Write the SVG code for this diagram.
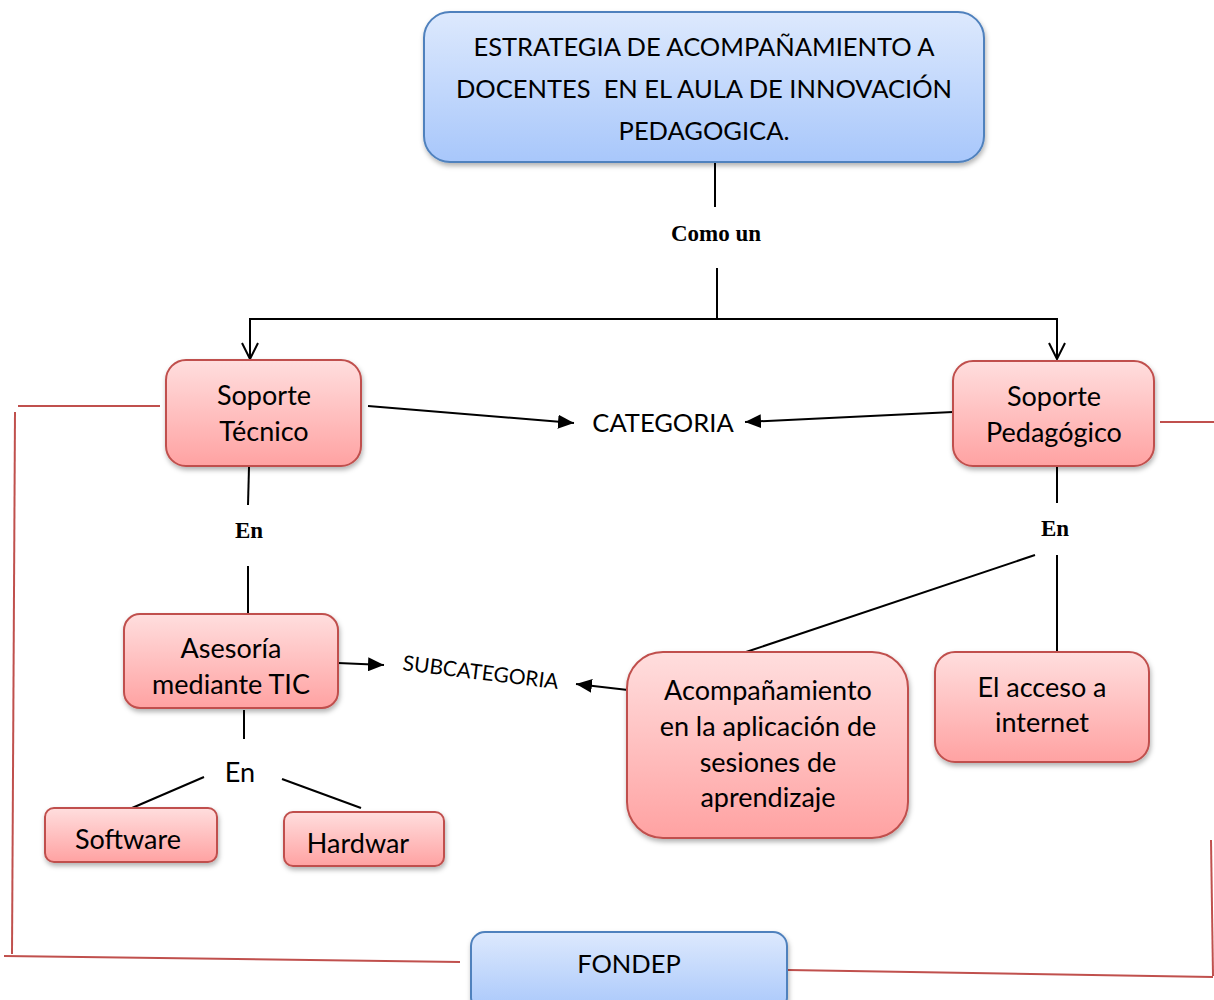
<svg xmlns="http://www.w3.org/2000/svg" width="1214" height="1000" viewBox="0 0 1214 1000">
<defs>
<linearGradient id="gBlue" x1="0" y1="0" x2="0" y2="1"><stop offset="0" stop-color="#dde9fd"/><stop offset="1" stop-color="#a8c7fb"/></linearGradient>
<linearGradient id="gRed" x1="0" y1="0" x2="0" y2="1"><stop offset="0" stop-color="#ffdede"/><stop offset="1" stop-color="#ffa2a2"/></linearGradient>
<filter id="sh" x="-10%" y="-10%" width="130%" height="140%"><feDropShadow dx="1" dy="3" stdDeviation="2.5" flood-color="#000" flood-opacity="0.3"/></filter>
<marker id="aFill" viewBox="0 0 10 10" refX="10" refY="5" markerWidth="16" markerHeight="14" markerUnits="userSpaceOnUse" orient="auto" preserveAspectRatio="none"><path d="M0,0 L10,5 L0,10 z" fill="#000"/></marker>
<marker id="aOpen" viewBox="0 0 20 20" refX="18" refY="10" markerWidth="20" markerHeight="20" markerUnits="userSpaceOnUse" orient="auto"><path d="M2,2 L18,10 L2,18" fill="none" stroke="#000" stroke-width="2"/></marker>
</defs>
<style>
.blue{fill:url(#gBlue);stroke:#4f81bd;stroke-width:2;filter:url(#sh)}
.red{fill:url(#gRed);stroke:#c0504d;stroke-width:2;filter:url(#sh)}
.t{font-family:Lato,"Liberation Sans",sans-serif;font-size:25.5px;fill:#000;text-anchor:middle}
.m{font-size:27px}
.b{font-family:"Liberation Serif","Times New Roman",serif;font-weight:bold;font-size:23px;fill:#000;text-anchor:middle}
.ln{stroke:#000;stroke-width:2;fill:none}
.rl{stroke:#c0504d;stroke-width:2;fill:none}
</style>
<g id="connectors">
<line class="ln" x1="715" y1="162" x2="715" y2="207"/>
<line class="ln" x1="717" y1="268" x2="717" y2="319"/>
<polyline class="ln" points="250,319 1057,319 1057,359" marker-end="url(#aOpen)"/>
<line class="ln" x1="250" y1="318" x2="250" y2="359" marker-end="url(#aOpen)"/>
<line class="ln" x1="368" y1="406" x2="574" y2="423" marker-end="url(#aFill)"/>
<line class="ln" x1="953" y1="412" x2="745" y2="422" marker-end="url(#aFill)"/>
<line class="ln" x1="249" y1="467" x2="248" y2="505"/>
<line class="ln" x1="248" y1="566" x2="248" y2="616"/>
<line class="ln" x1="1057" y1="467" x2="1057" y2="503"/>
<line class="ln" x1="1057" y1="555" x2="1057" y2="652"/>
<line class="ln" x1="1035" y1="555" x2="746" y2="652"/>
<line class="ln" x1="338" y1="663" x2="384" y2="665" marker-end="url(#aFill)"/>
<line class="ln" x1="628" y1="690" x2="576" y2="684" marker-end="url(#aFill)"/>
<line class="ln" x1="244" y1="710" x2="244" y2="739"/>
<line class="ln" x1="204" y1="777" x2="132" y2="808"/>
<line class="ln" x1="282" y1="779" x2="361" y2="808"/>
<line class="rl" x1="18" y1="406" x2="160" y2="406"/>
<line class="rl" x1="15" y1="412" x2="12" y2="954"/>
<line class="rl" x1="4" y1="956" x2="460" y2="962"/>
<line class="rl" x1="1160" y1="422" x2="1214" y2="422"/>
<line class="rl" x1="1211" y1="840" x2="1213" y2="976"/>
<line class="rl" x1="788" y1="970" x2="1213" y2="977"/>
</g>
<g id="n-estrategia">
<rect class="blue" x="424" y="12" width="560" height="150" rx="26"/>
<text class="t" x="704" y="56">ESTRATEGIA DE ACOMPAÑAMIENTO A</text>
<text class="t" x="704" y="98" xml:space="preserve">DOCENTES  EN EL AULA DE INNOVACIÓN</text>
<text class="t" x="704" y="140">PEDAGOGICA.</text>
</g>
<g id="l-comoun"><text class="b" x="716" y="241">Como un</text></g>
<g id="n-soporte-tecnico">
<rect class="red" x="166" y="360" width="195" height="106" rx="20"/>
<text class="t m" x="264" y="405">Soporte</text>
<text class="t m" x="264" y="441">Técnico</text>
</g>
<g id="n-soporte-pedagogico">
<rect class="red" x="953" y="361" width="201" height="105" rx="20"/>
<text class="t m" x="1054" y="406">Soporte</text>
<text class="t m" x="1054" y="442">Pedagógico</text>
</g>
<g id="l-categoria"><text class="t" x="663" y="432">CATEGORIA</text></g>
<g id="l-en-left"><text class="b" x="249" y="538">En</text></g>
<g id="l-en-right"><text class="b" x="1055" y="536">En</text></g>
<g id="n-asesoria">
<rect class="red" x="124" y="614" width="214" height="94" rx="16"/>
<text class="t m" x="231" y="658">Asesoría</text>
<text class="t m" x="231" y="694">mediante TIC</text>
</g>
<g id="l-subcategoria"><text class="t" style="font-size:21px;text-anchor:start" transform="translate(402,670) rotate(7)">SUBCATEGORIA</text></g>
<g id="n-acompanamiento">
<rect class="red" x="627" y="652" width="281" height="186" rx="36"/>
<text class="t m" x="768" y="700">Acompañamiento</text>
<text class="t m" x="768" y="736">en la aplicación de</text>
<text class="t m" x="768" y="772">sesiones de</text>
<text class="t m" x="768" y="807">aprendizaje</text>
</g>
<g id="n-acceso">
<rect class="red" x="935" y="652" width="214" height="110" rx="20"/>
<text class="t m" x="1042" y="697">El acceso a</text>
<text class="t m" x="1042" y="732">internet</text>
</g>
<g id="l-en-bottom"><text class="t m" x="240" y="782">En</text></g>
<g id="n-software">
<rect class="red" x="45" y="808" width="172" height="54" rx="9"/>
<text class="t m" x="128" y="849">Software</text>
</g>
<g id="n-hardwar">
<rect class="red" x="284" y="812" width="160" height="54" rx="9"/>
<text class="t m" x="358" y="853">Hardwar</text>
</g>
<g id="n-fondep">
<rect class="blue" x="471" y="932" width="316" height="80" rx="14"/>
<text class="t" x="629" y="973">FONDEP</text>
</g>
</svg>
